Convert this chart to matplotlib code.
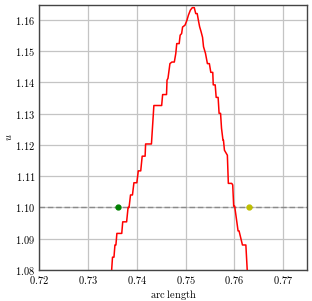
import matplotlib
matplotlib.use("Agg")
import matplotlib.pyplot as plt
from matplotlib.ticker import FuncFormatter

plt.rcParams["mathtext.fontset"] = "cm"
plt.rcParams["font.family"] = "serif"
plt.rcParams["font.serif"] = ["DejaVu Serif"]

# step-like curve u(arc length)
arc = [0.7348, 0.7350, 0.7353, 0.7355, 0.7357, 0.7359, 0.7369, 0.7371,
       0.7379, 0.7382, 0.7384, 0.7387, 0.7391, 0.7394, 0.7400, 0.7403,
       0.7408, 0.7411, 0.7417, 0.7418, 0.7430, 0.7435, 0.7451, 0.7453,
       0.7461, 0.7462, 0.7464, 0.7468, 0.7472, 0.7477, 0.7480, 0.7482,
       0.7487, 0.7489, 0.7492, 0.7494, 0.7499, 0.7503, 0.7506, 0.7510,
       0.7514, 0.7518, 0.7521, 0.7524, 0.7527, 0.7529, 0.7532, 0.7535,
       0.7537, 0.7541, 0.7545, 0.7549, 0.7552, 0.7556, 0.7557, 0.7561,
       0.7563, 0.7567, 0.7569, 0.7572, 0.7574, 0.7577, 0.7578, 0.7580,
       0.7586, 0.7586, 0.7588, 0.7595, 0.7597, 0.7599, 0.7601, 0.7608,
       0.7610, 0.7617, 0.7619, 0.7624, 0.7627]
u = [1.0794, 1.0841, 1.0841, 1.0880, 1.0880, 1.0917, 1.0917, 1.0954,
     1.0954, 1.1000, 1.1000, 1.1040, 1.1040, 1.1079, 1.1079, 1.1117,
     1.1117, 1.1164, 1.1164, 1.1203, 1.1203, 1.1326, 1.1326, 1.1361,
     1.1361, 1.1407, 1.1413, 1.1460, 1.1465, 1.1465, 1.1492, 1.1524,
     1.1524, 1.1551, 1.1556, 1.1577, 1.1583, 1.1599, 1.1615, 1.1631,
     1.1639, 1.1639, 1.1620, 1.1620, 1.1594, 1.1578, 1.1562, 1.1544,
     1.1514, 1.1493, 1.1460, 1.1460, 1.1432, 1.1432, 1.1392, 1.1392,
     1.1352, 1.1352, 1.1301, 1.1301, 1.1253, 1.1215, 1.1215, 1.1183,
     1.1167, 1.1167, 1.1077, 1.1077, 1.1072, 1.1004, 1.1004, 1.0925,
     1.0925, 1.0880, 1.0880, 1.0880, 1.0794]

level = 1.10
left_pt = (0.7362, 1.10)
right_pt = (0.7631, 1.10)

xticks = [0.72, 0.73, 0.74, 0.75, 0.76, 0.77]
yticks = [1.08, 1.09, 1.10, 1.11, 1.12, 1.13, 1.14, 1.15, 1.16]

fig = plt.figure(figsize=(3.12, 3.01), dpi=100)
ax = fig.add_axes([0.1266, 0.103, 0.983 - 0.1266, 0.984 - 0.103])

ax.grid(True, color="#c4c4c4", linewidth=0.9)
ax.axhline(level, color="#8a8a8a", linestyle=(0, (4, 2)), linewidth=1.0, zorder=2)
ax.plot(arc, u, color="red", linewidth=1.1, zorder=3)
ax.plot(*left_pt, "o", color="green", markersize=3.5, zorder=4)
ax.plot(*right_pt, "o", color="y", markersize=3.5, zorder=4)

ax.set_xlim(0.72, 0.7749)
ax.set_ylim(1.08, 1.1648)
ax.set_xticks(xticks)
ax.set_yticks(yticks)
fmt = FuncFormatter(lambda v, p: r"$%.2f$" % v)
ax.xaxis.set_major_formatter(fmt)
ax.yaxis.set_major_formatter(fmt)
ax.tick_params(length=0, labelsize=7.5, pad=3)
for s in ax.spines.values():
    s.set_color("#444444")
    s.set_linewidth(1.0)

ax.set_xlabel(r"$\mathrm{arc\ length}$", fontsize=7.5, labelpad=1)
ax.set_ylabel(r"$u$", fontsize=7.5, labelpad=1)

fig.savefig("out.png", dpi=100)
